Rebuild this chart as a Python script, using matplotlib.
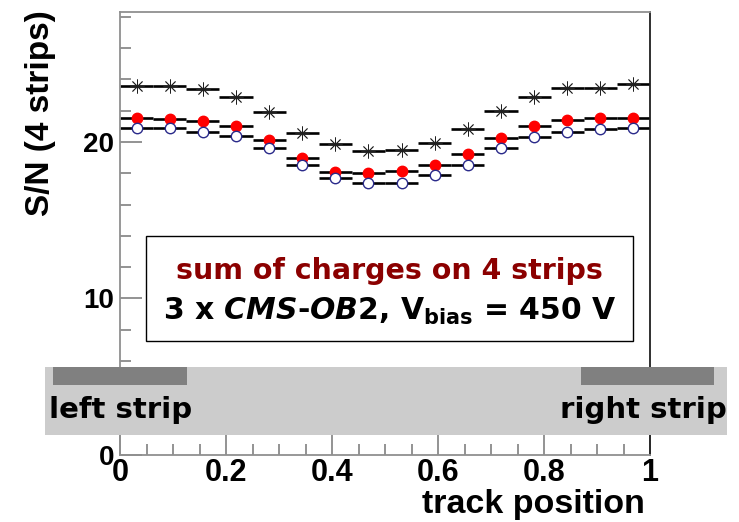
import numpy as np
import matplotlib
matplotlib.use('Agg')
import matplotlib.pyplot as plt
from matplotlib.patches import Rectangle
from matplotlib.ticker import MultipleLocator

# 16 bins over the track position, one point per bin
bin_edges = np.linspace(0, 1, 17)
x = 0.5 * (bin_edges[:-1] + bin_edges[1:])
xerr = 0.5 * np.diff(bin_edges)

sn_star = [23.6, 23.55, 23.4, 22.9, 21.9, 20.6, 19.85, 19.4,
           19.5, 19.9, 20.8, 21.95, 22.9, 23.45, 23.45, 23.7]
sn_red = [21.5, 21.45, 21.35, 21.0, 20.15, 18.95, 18.05, 18.0,
          18.15, 18.55, 19.2, 20.25, 21.0, 21.4, 21.5, 21.5]
sn_open = [20.9, 20.9, 20.65, 20.35, 19.6, 18.55, 17.7, 17.35,
           17.35, 17.9, 18.55, 19.6, 20.3, 20.65, 20.85, 20.9]

plt.rcParams['mathtext.fontset'] = 'custom'
plt.rcParams['mathtext.rm'] = 'DejaVu Sans:bold'
plt.rcParams['mathtext.it'] = 'DejaVu Sans:italic:bold'

fig = plt.figure(figsize=(7.39, 5.22), dpi=100)
ax = fig.add_axes([0.1624, 0.1284, 0.7172, 0.8486])

ax.errorbar(x, sn_star, xerr=xerr, fmt='none', ecolor='black', elinewidth=1.9, capsize=0, zorder=2)
ax.plot(x, sn_star, ls='none', marker=(8, 2, 0), ms=10, mec='#202020', mew=0.6, zorder=3)
ax.errorbar(x, sn_red, xerr=xerr, fmt='none', ecolor='black', elinewidth=1.9, capsize=0, zorder=2)
ax.plot(x, sn_red, ls='none', marker='o', ms=7.5, mfc='#ff0000', mec='#ff0000', zorder=3)
ax.errorbar(x, sn_open, xerr=xerr, fmt='none', ecolor='black', elinewidth=1.9, capsize=0, zorder=2)
ax.plot(x, sn_open, ls='none', marker='o', ms=7.5, mfc='white', mec='#2a2a8a', mew=1.0, zorder=3)

ax.set_xlim(0, 1)
ax.set_ylim(0, 28.3)
ax.xaxis.set_minor_locator(MultipleLocator(0.05))
ax.yaxis.set_minor_locator(MultipleLocator(2))
ax.set_xticks([0, 0.2, 0.4, 0.6, 0.8, 1.0])
ax.set_xticklabels(['0', '0.2', '0.4', '0.6', '0.8', '1'])
ax.set_yticks([0, 10, 20])
ax.set_yticklabels(['0', '10', '20'])
ax.tick_params(which='both', direction='in', colors='#808080', labelcolor='black',
               top=False, right=False)
ax.tick_params(which='major', length=16, width=1.2)
ax.tick_params(which='minor', length=8, width=1.2)
ax.tick_params(axis='x', labelsize=22, pad=2)
ax.tick_params(axis='y', labelsize=20, pad=4)
for lab in ax.get_xticklabels() + ax.get_yticklabels():
    lab.set_fontfamily('Liberation Sans')
    lab.set_fontweight('bold')

for s in ['left', 'top', 'bottom']:
    ax.spines[s].set_color('#909090')
    ax.spines[s].set_linewidth(1.3)
ax.spines['right'].set_color('#202020')
ax.spines['right'].set_linewidth(1.3)

ax.set_ylabel('S/N (4 strips)', fontsize=24, fontweight='bold', family='Liberation Sans', loc='top')
ax.yaxis.set_label_coords(-0.12, 1.003)
ax.set_xlabel('track position', fontsize=24.5, fontweight='bold', family='Liberation Sans', loc='right')
ax.xaxis.set_label_coords(0.99, -0.076)

# info box
ax.add_patch(Rectangle((0.0490, 7.31), 0.9194, 6.67, facecolor='white', edgecolor='black',
                       lw=1.0, zorder=4))
ax.text(0.509, 11.75, 'sum of charges on 4 strips', color='#8b0000', fontsize=20.5,
        fontweight='bold', ha='center', va='center', zorder=5)
ax.text(0.509, 9.2, r'3 x $\mathit{CMS}$-$\mathit{OB2}$, V$_{\mathrm{bias}}$ = 450 V', color='black',
        fontsize=21.5, fontweight='bold', ha='center', va='center', zorder=5)

# strip band below the data
ax.add_patch(Rectangle((-0.1415, 1.27), 1.2868, 4.32, facecolor='#cccccc', edgecolor='none',
                       clip_on=False, zorder=6))
ax.add_patch(Rectangle((-0.1255, 4.45), 0.2517, 1.14, facecolor='#808080', edgecolor='none',
                       clip_on=False, zorder=7))
ax.add_patch(Rectangle((0.8698, 4.45), 0.2510, 1.14, facecolor='#808080', edgecolor='none',
                       clip_on=False, zorder=7))
ax.text(-0.134, 2.85, 'left strip', fontsize=21, fontweight='bold', ha='left', va='center',
        clip_on=False, zorder=8)
ax.text(1.144, 2.85, 'right strip', fontsize=21, fontweight='bold', ha='right', va='center',
        clip_on=False, zorder=8)

fig.savefig('out.png', dpi=100)
